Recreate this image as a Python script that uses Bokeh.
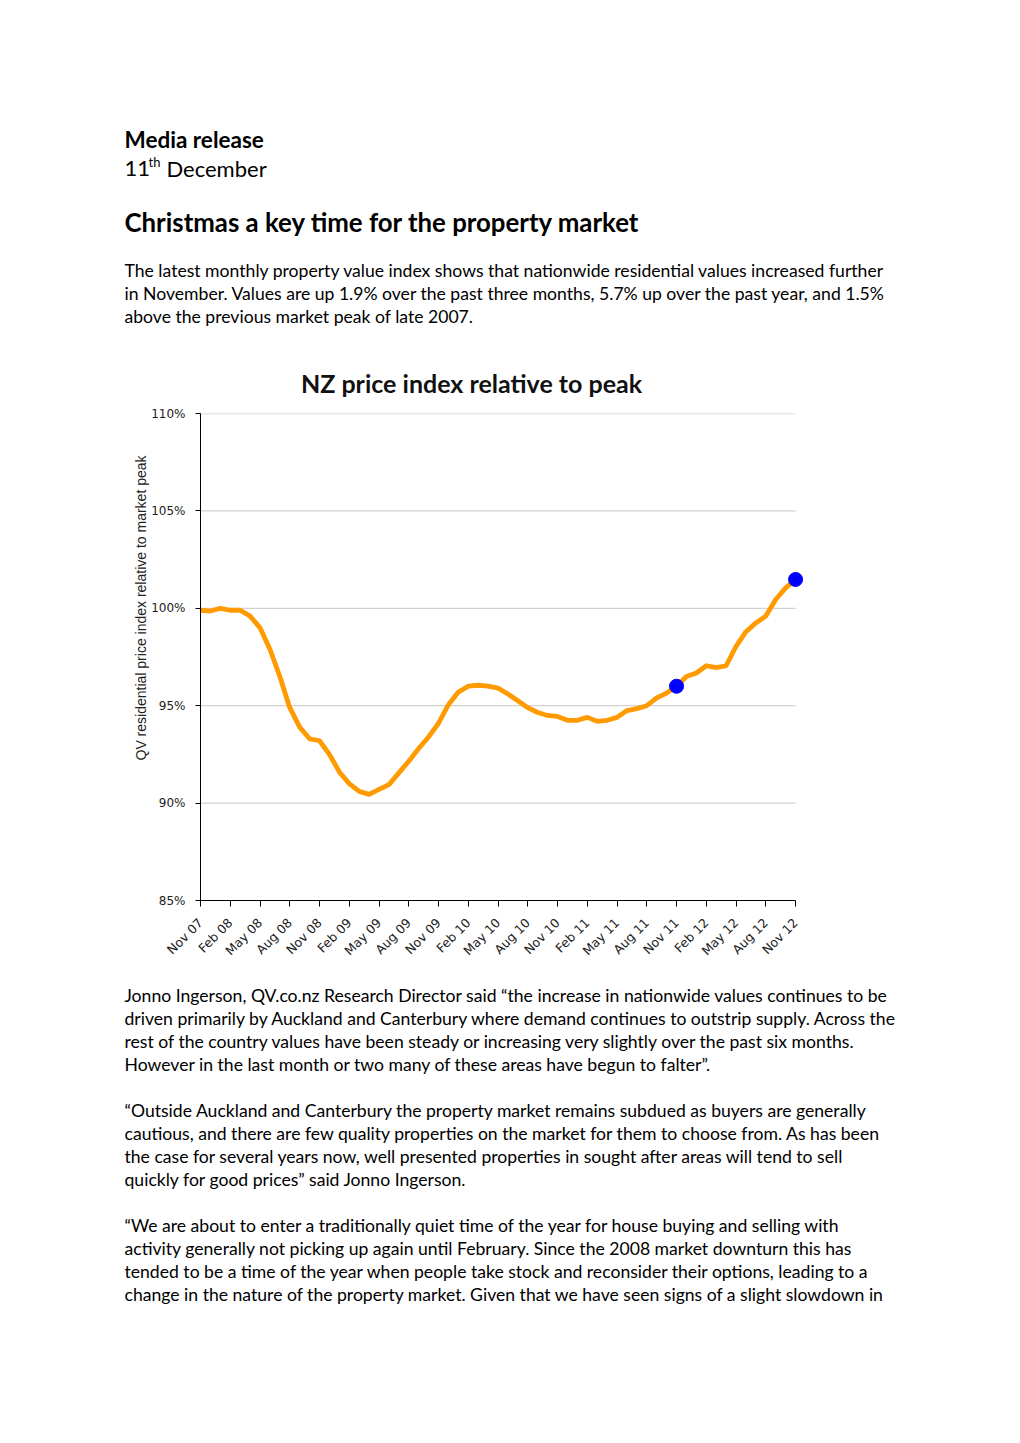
import numpy as np
from bokeh.plotting import figure
from bokeh.models import Range1d, FixedTicker, Title
from bokeh.layouts import column
from bokeh.core.properties import value
from bokeh.embed import file_html
from bokeh.resources import INLINE

# ---------------- data ----------------
months = list(range(61))  # month index, Nov 07 .. Nov 12
index_pct = [99.9, 99.86, 100.0, 99.9, 99.9, 99.6, 99.0, 97.9, 96.5, 94.9,
             93.9, 93.3, 93.2, 92.5, 91.6, 91.0, 90.6, 90.45, 90.7, 90.95,
             91.55, 92.15, 92.8, 93.4, 94.1, 95.05, 95.7, 96.0, 96.05, 96.0,
             95.9, 95.6, 95.25, 94.9, 94.65, 94.5, 94.45, 94.25, 94.25, 94.4,
             94.2, 94.25, 94.4, 94.75, 94.85, 95.0, 95.4, 95.65, 96.0, 96.5,
             96.68, 97.05, 96.95, 97.05, 98.05, 98.8, 99.25, 99.6, 100.45, 101.05,
             101.48]
highlight_months = [48, 60]
highlight_pct = [index_pct[m] for m in highlight_months]

x_tick_positions = list(range(0, 61, 3))
x_tick_labels = ["Nov 07", "Feb 08", "May 08", "Aug 08", "Nov 08", "Feb 09", "May 09",
                 "Aug 09", "Nov 09", "Feb 10", "May 10", "Aug 10", "Nov 10", "Feb 11",
                 "May 11", "Aug 11", "Nov 11", "Feb 12", "May 12", "Aug 12", "Nov 12"]
y_ticks = [85, 90, 95, 100, 105, 110]
y_tick_labels = ["85%", "90%", "95%", "100%", "105%", "110%"]
grid_values = [90, 95, 100, 105, 110]

chart_title = "NZ price index relative to peak"
y_axis_title = "QV residential price index relative to market peak"

heading1 = "Media release"
date_day, date_sup, date_month = "11", "th", "December"
headline = "Christmas a key time for the property market"
para1 = ["The latest monthly property value index shows that nationwide residential values increased further",
         "in November. Values are up 1.9% over the past three months, 5.7% up over the past year, and 1.5%",
         "above the previous market peak of late 2007."]
para2 = ["Jonno Ingerson, QV.co.nz Research Director said \u201cthe increase in nationwide values continues to be",
         "driven primarily by Auckland and Canterbury where demand continues to outstrip supply. Across the",
         "rest of the country values have been steady or increasing very slightly over the past six months.",
         "However in the last month or two many of these areas have begun to falter\u201d."]
para3 = ["\u201cOutside Auckland and Canterbury the property market remains subdued as buyers are generally",
         "cautious, and there are few quality properties on the market for them to choose from. As has been",
         "the case for several years now, well presented properties in sought after areas will tend to sell",
         "quickly for good prices\u201d said Jonno Ingerson."]
para4 = ["\u201cWe are about to enter a traditionally quiet time of the year for house buying and selling with",
         "activity generally not picking up again until February. Since the 2008 market downturn this has",
         "tended to be a time of the year when people take stock and reconsider their options, leading to a",
         "change in the nature of the property market. Given that we have seen signs of a slight slowdown in"]

BODY_FONT = "Lato"
BODY_SIZE = "17.6px"
LEFT = 124
LINE_H = 23
PAGE_W = 1016


def no_align(f):
    try:
        f.frame_align = False
    except Exception:
        pass


def text_fig(y0, y1):
    f = figure(width=PAGE_W, height=y1 - y0, x_range=Range1d(0, PAGE_W), y_range=Range1d(y1, y0),
               output_backend="svg", toolbar_location=None, min_border=0,
               x_axis_location=None, y_axis_location=None)
    f.grid.visible = False
    f.outline_line_color = None
    f.background_fill_color = "white"
    f.border_fill_color = "white"
    no_align(f)
    return f


def add_lines(f, lines, y_first, size=BODY_SIZE, style="normal", font=BODY_FONT):
    ys = [y_first + i * LINE_H for i in range(len(lines))]
    f.text(x=[LEFT] * len(lines), y=ys, text=lines, text_font=value(font),
           text_font_size=value(size), text_font_style=style, text_color="black",
           text_baseline="middle", text_align="left")


# ---------------- top text ----------------
TOP_H = 400
top = text_fig(0, TOP_H)
add_lines(top, [heading1], 139, size="22.5px", style="bold")
top.text(x=[LEFT], y=[168], text=[date_day], text_font=value(BODY_FONT), text_font_size=value("22px"),
         text_baseline="middle", text_color="black")
top.text(x=[148], y=[161], text=[date_sup], text_font=value(BODY_FONT), text_font_size=value("13px"),
         text_baseline="middle", text_color="black")
top.text(x=[166], y=[168], text=[date_month], text_font=value(BODY_FONT), text_font_size=value("22px"),
         text_baseline="middle", text_color="black")
add_lines(top, [headline], 221, size="25.8px", style="bold")
add_lines(top, para1, 270)
top.text(x=[471], y=[382], text=[chart_title], text_font=value(BODY_FONT), text_font_size=value("25px"),
         text_font_style="bold", text_baseline="middle", text_align="center", text_color="#111111")

# ---------------- chart ----------------
p = figure(frame_width=603, frame_height=487, x_range=Range1d(0, 60.8), y_range=Range1d(85, 110),
           output_backend="svg", toolbar_location=None,
           min_border_left=200, min_border_right=PAGE_W - 803, min_border_top=13, min_border_bottom=75)
p.outline_line_color = None
p.grid.visible = False
p.background_fill_color = "white"
p.border_fill_color = "white"
no_align(p)

p.segment(x0=[months[0]] * len(grid_values), x1=[months[-1]] * len(grid_values),
          y0=grid_values, y1=grid_values, line_color="#d2d2d2", line_width=1.3)

p.line(months, index_pct, line_color="#ff9a00", line_width=4.8, line_join="round", line_cap="round")
p.scatter(highlight_months, highlight_pct, size=14, fill_color="#0000ff", line_color="#0000ff")

xa = p.xaxis[0]
xa.ticker = FixedTicker(ticks=x_tick_positions)
xa.major_label_overrides = {t: l for t, l in zip(x_tick_positions, x_tick_labels)}
xa.major_label_orientation = np.pi / 4
xa.bounds = (months[0], months[-1])
xa.minor_tick_line_color = None
xa.major_tick_in = 0
xa.major_tick_out = 6
xa.major_label_standoff = 14
xa.major_label_text_font = "DejaVu Sans"
xa.major_label_text_font_size = "12.5px"
xa.major_label_text_color = "#222222"
xa.axis_line_color = "black"
xa.major_tick_line_color = "black"

ya = p.yaxis[0]
ya.ticker = FixedTicker(ticks=y_ticks)
ya.major_label_overrides = {t: l for t, l in zip(y_ticks, y_tick_labels)}
ya.minor_tick_line_color = None
ya.major_tick_in = 0
ya.major_tick_out = 5
ya.major_label_standoff = 10
ya.major_label_text_font = "DejaVu Sans"
ya.major_label_text_font_size = "12px"
ya.major_label_text_color = "#222222"
ya.axis_line_color = "black"
ya.major_tick_line_color = "black"

p.add_layout(Title(text=y_axis_title, align="left", offset=140, standoff=0,
                   text_font="Liberation Sans", text_font_size="14px",
                   text_font_style="normal", text_color="#222222"), "left")

# ---------------- bottom text ----------------
BOT_Y0 = TOP_H + 13 + 487 + 75
bottom = text_fig(BOT_Y0, 1440)
add_lines(bottom, para2, 995)
add_lines(bottom, para3, 1110)
add_lines(bottom, para4, 1225)

layout = column(top, p, bottom)
open("out.html", "w").write(file_html(layout, INLINE))
